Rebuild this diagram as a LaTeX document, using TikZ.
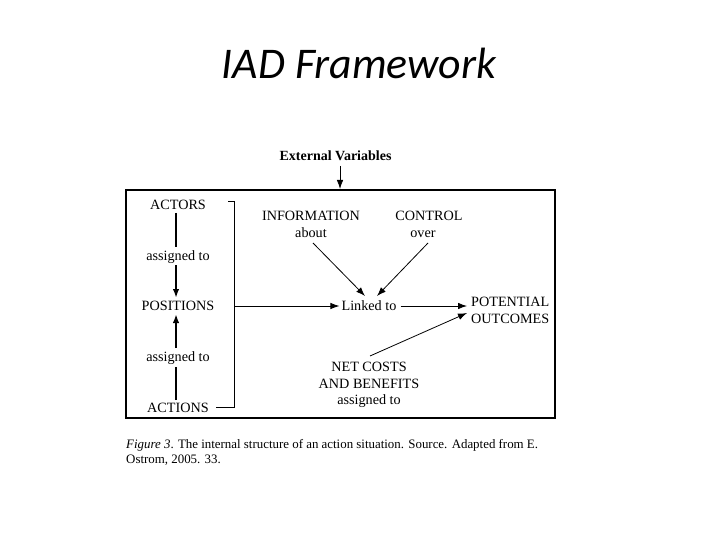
\documentclass[tikz,border=0pt]{standalone}
\usepackage{fontspec}
\setmainfont{Liberation Serif}
\newfontfamily\titlefont{Carlito}
\usetikzlibrary{arrows.meta}
\begin{document}
\begin{tikzpicture}[x=1pt,y=-1pt,
  multi/.style={inner sep=0pt,font=\fontsize{14.2}{16.5}\selectfont,align=center},
  lbl/.style={multi,text height=10.5pt,text depth=1pt},
  thin arrow/.style={line width=0.8pt,-{Latex[length=9pt,width=6.5pt]}},
  thick arrow/.style={line width=1.8pt,-{Latex[length=9pt,width=6.5pt]}},
  plain/.style={line width=1pt}]
\useasboundingbox (0,0) rectangle (720,540);
% title
\node[inner sep=0pt,anchor=base,font=\titlefont\itshape\fontsize{43.8}{48}\selectfont] (title) at (359,79) {IAD Framework};
% external variables
\node[inner sep=0pt,anchor=base,font=\bfseries\fontsize{14}{16}\selectfont] (ext) at (335.5,161) {External Variables};
\coordinate (boxtop) at (340,189);
\draw[thin arrow] (340,166) -- (boxtop);
% box
\draw[line width=2pt] (126,190) rectangle (555,418);
% left column
\node[lbl] (actors) at (178,205) {ACTORS};
\node[lbl] (as1) at (178,256) {assigned to};
\node[lbl] (positions) at (178,306) {POSITIONS};
\node[lbl] (as2) at (178,357) {assigned to};
\node[lbl] (actions) at (178,408) {ACTIONS};
\draw[line width=1.8pt] (176,213) -- (176,247);
\draw[thick arrow] (176,265) -- (176,298);
\draw[line width=1.8pt] (176,400) -- (176,367);
\draw[thick arrow] (176,348) -- (176,314);
% bracket
\coordinate (b1) at (228,202);
\coordinate (b2) at (234,202);
\coordinate (b3) at (234,407);
\coordinate (b4) at (216,407);
\coordinate (bm) at (234,306);
\draw[plain] (b1) -- (b2) -- (b3) -- (b4);
% middle
\node[lbl] (info) at (311,216) {INFORMATION};
\node[lbl] (about) at (311,233) {about};
\node[lbl] (control) at (429,216) {CONTROL};
\node[lbl] (over) at (423,233) {over};
\node[lbl] (linked) at (369,306) {Linked to};
\node[multi,align=left,anchor=west] (pot) at (471,310.5) {POTENTIAL\\OUTCOMES};
\node[multi] (net) at (369,385) {NET COSTS\\AND BENEFITS\\assigned to};
\draw[thin arrow] (bm) -- ([xshift=-2pt]linked.west);
\draw[thin arrow] (313,243) -- (365,296);
\draw[thin arrow] (428,243) -- (377,296);
\draw[thin arrow] ([xshift=4pt]linked.east) -- (467,306);
\draw[thin arrow] (370,356) -- (467,313);
% caption
\node[inner sep=0pt,anchor=north west,align=left,font=\fontsize{12.9}{15}\selectfont] (cap) at (126,439.5)
 {\textit{Figure 3}. The internal structure of an action situation. Source. Adapted from E.\\Ostrom, 2005. 33.};
\end{tikzpicture}
\end{document}
